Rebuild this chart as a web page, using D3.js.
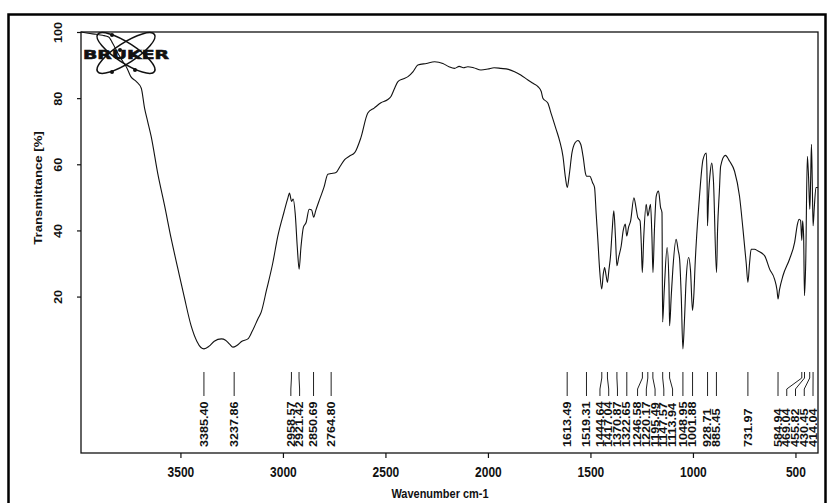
<!DOCTYPE html>
<html>
<head>
<meta charset="utf-8">
<script src="https://cdnjs.cloudflare.com/ajax/libs/d3/7.8.5/d3.min.js"></script>
<style>
body { margin: 0; background: #fff; }
text { font-family: "Liberation Sans", Arial, sans-serif; fill: #111; }
</style>
</head>
<body>
<div id="chart"></div>
<script>
// spectrum (wavenumber cm-1 / transmittance %)
var wavenumbers = [3985,3950,3910,3880,3850,3830,3805,3780,3760,3742,3715,3691,3675,3660,3643,3610,3577,3545,3512,3480,3448,3420,3400,3385,3360,3335,3300,3280,3260,3244,3225,3200,3171,3150,3120,3106,3080,3050,3025,2995,2975,2968,2958,2950,2940,2930,2921,2912,2900,2887,2872,2860,2850,2840,2821,2800,2781,2765,2741,2720,2699,2675,2650,2620,2586,2555,2522,2490,2473,2455,2439,2415,2390,2365,2342,2300,2260,2220,2190,2163,2140,2120,2098,2070,2034,2000,1970,1937,1900,1870,1840,1805,1780,1756,1740,1732,1708,1690,1667,1650,1634,1622,1613,1603,1590,1575,1561,1547,1535,1525,1519,1503,1490,1480,1472,1464,1455,1445,1437,1431,1424,1417,1410,1402,1394,1386,1378,1371,1362,1350,1340,1330,1323,1314,1304,1288,1278,1269,1258,1252,1247,1240,1228,1220,1207,1200,1195,1188,1179,1168,1158,1151,1148,1140,1126,1117,1114,1106,1098,1082,1072,1065,1057,1049,1042,1033,1021,1012,1002,996,989,978,968,951,935,931,929,924,915,908,900,885,880,871,865,842,821,797,773,756,740,732,724,716,700,683,650,626,602,590,585,578,561,529,504,490,482,475,469,465,460,456,450,442,436,430,426,422,418,414,408,400,390];
var transmittance = [100,99.6,99.3,99,98.5,96.5,93.6,91,89,86.5,85,83,77,73,68.5,57,47.4,37.5,28.3,19.5,11.2,6.5,4.6,4.2,5,6.5,7.2,6.8,5.6,4.7,5.2,6.5,7.2,9.5,13.5,15.3,22,30,38.3,45.5,50,51.3,48.8,49.5,45,35,28.3,35,41,42.4,46.4,46.2,44,46,49.4,53,57,57.2,57.5,59.5,61.4,62.5,63.5,68,75.5,77,78.6,79.5,80.5,83,85,85.8,86.5,88,90,90.5,91,90.5,89.5,89,89.6,89.2,89.5,89.2,88.5,88.8,89.2,89,88.7,88,87,85.5,84.5,83.5,82,80,78.5,75,70.5,67,62.4,56,53,57,63.5,66.5,67.2,66,62,57.5,56.4,56.4,54.5,53,45,37.3,28,22.3,27,28.8,26.5,24.3,28,32.3,40,45.9,38,29.3,32,35.3,40,41.9,38.3,41,42.9,49.9,47,43.9,42.9,36,27.3,38,47.9,44.4,47.9,38,27.3,40,50.4,51.9,47,45.4,12.3,22,34.8,24,11.2,20,28.3,37.3,34,31.3,20,4.2,12,25.3,31.8,28,15.8,20,30.3,42,50.4,61.4,63.4,55,41.4,50,58,60.4,55,27.3,40,52,59.4,62.7,60.9,57.9,50.4,40.4,30,24.3,30,34.3,34.3,33.8,32.3,28.3,25.3,22,19.3,22,26.3,31.3,36.4,42,43.4,43,37,42.9,38,20.3,30,62.4,56,46.4,55,66,55,41.4,47,53,53];

// peak picks printed under the spectrum
var peakLabels = [3385.40,3237.86,2958.57,2921.42,2850.69,2764.80,1613.49,1519.31,1444.64,1417.04,1370.87,1322.65,1246.58,1220.17,1195.49,1147.57,1113.94,1048.95,1001.88,928.71,885.45,731.97,584.94,469.04,455.82,430.45,414.04];

var xTicks = [3500,3000,2500,2000,1500,1000,500];
var yTicks = [100,80,60,40,20];

var width = 828, height = 503;
var svg = d3.select('#chart').append('svg')
    .attr('width', width)
    .attr('height', height);

// outer border of the printout
svg.append('rect')
    .attr('x', 8.5).attr('y', 14.5)
    .attr('width', 817).attr('height', 500)
    .attr('fill', 'none')
    .attr('stroke', '#000')
    .attr('stroke-width', 2.5);

var x = d3.scaleLinear().domain([3985, 390]).range([81, 818]);
var y = d3.scaleLinear().domain([-27.3, 100]).range([453, 32]);

// plot frame
svg.append('rect')
    .attr('x', x.range()[0]).attr('y', y.range()[1])
    .attr('width', x.range()[1] - x.range()[0])
    .attr('height', y.range()[0] - y.range()[1])
    .attr('fill', 'none')
    .attr('stroke', '#111')
    .attr('stroke-width', 1.3);

// x axis
var xAxis = svg.append('g')
    .attr('transform', 'translate(0,' + y.range()[0] + ')')
    .call(d3.axisBottom(x).tickValues(xTicks).tickSize(5).tickFormat(d3.format('d')));
xAxis.select('.domain').remove();
xAxis.selectAll('line').attr('stroke', '#111').attr('stroke-width', 1.2);
xAxis.selectAll('text')
    .attr('y', 0).attr('dy', '0.35em')
    .attr('transform', 'translate(0,19) scale(1,1.2)')
    .style('font-size', '12px')
    .style('font-weight', 'bold')
    .attr('fill', '#111');

// y axis
var yAxis = svg.append('g')
    .attr('transform', 'translate(' + x.range()[0] + ',0)')
    .call(d3.axisLeft(y).tickValues(yTicks).tickSize(4));
yAxis.select('.domain').remove();
yAxis.selectAll('line').attr('stroke', '#111').attr('stroke-width', 1.2);
yAxis.selectAll('text')
    .attr('x', 0).attr('dy', '0.35em')
    .attr('text-anchor', 'middle')
    .attr('transform', 'translate(-23,0) rotate(-90) scale(1.15,1)')
    .style('font-size', '11px')
    .style('font-weight', 'bold')
    .attr('fill', '#111');

// axis titles
svg.append('text')
    .attr('text-anchor', 'middle')
    .attr('transform', 'translate(440,493) scale(1,1.2)')
    .attr('dy', '0.35em')
    .style('font-size', '11px')
    .style('font-weight', 'bold')
    .text('Wavenumber cm-1');

svg.append('text')
    .attr('text-anchor', 'middle')
    .attr('transform', 'translate(38,188) rotate(-90) scale(1.2,1)')
    .attr('dy', '0.35em')
    .style('font-size', '11px')
    .style('font-weight', 'bold')
    .text('Transmittance [%]');

// spectrum line
var spectrum = wavenumbers.map(function(w, i) { return { w: w, t: transmittance[i] }; });
var line = d3.line()
    .x(function(d) { return x(d.w); })
    .y(function(d) { return y(d.t); })
    .curve(d3.curveMonotoneX);

svg.append('path')
    .datum(spectrum)
    .attr('d', line)
    .attr('fill', 'none')
    .attr('stroke', '#111')
    .attr('stroke-width', 1.1);

// spread crowded peak labels into clusters
function spreadLabels(xs, gap, maxX) {
    var clusters = xs.map(function(v, i) { return { idx: [i], mean: v }; });
    function start(c) {
        return Math.min(c.mean - (c.idx.length - 1) * gap / 2, maxX - (c.idx.length - 1) * gap);
    }
    var merged = true;
    while (merged) {
        merged = false;
        for (var i = 0; i < clusters.length - 1; i++) {
            var a = clusters[i], b = clusters[i + 1];
            var aEnd = start(a) + (a.idx.length - 1) * gap;
            if (start(b) - aEnd < gap) {
                var idx = a.idx.concat(b.idx);
                clusters.splice(i, 2, { idx: idx, mean: d3.mean(idx, function(j) { return xs[j]; }) });
                merged = true;
                break;
            }
        }
    }
    var out = [];
    clusters.forEach(function(c) {
        var s = start(c);
        c.idx.forEach(function(j, k) { out[j] = s + k * gap; });
    });
    return out;
}

var peakX = peakLabels.map(function(p) { return x(p); });
var labelX = spreadLabels(peakX, 8.75, 813);

var peaks = svg.append('g').attr('class', 'peaks');
peakLabels.forEach(function(p, i) {
    var px = peakX[i], lx = labelX[i];
    peaks.append('path')
        .attr('d', 'M' + px + ',372V378L' + lx + ',389V396')
        .attr('fill', 'none')
        .attr('stroke', '#222')
        .attr('stroke-width', 1);
    peaks.append('text')
        .attr('transform', 'translate(' + lx + ',447) rotate(-90) scale(1.2,1)')
        .attr('dy', '0.35em')
        .style('font-size', '10.5px')
        .style('font-weight', 'bold')
        .text(p.toFixed(2));
});

// Bruker logo in the corner
var logo = svg.append('g').attr('transform', 'translate(126,53)');
[-33, 33].forEach(function(a) {
    logo.append('ellipse')
        .attr('rx', 34).attr('ry', 10)
        .attr('transform', 'rotate(' + a + ')')
        .attr('fill', 'none')
        .attr('stroke', '#111')
        .attr('stroke-width', 1.5);
});
[[-14, -18], [-14, 19], [9, 17], [-6, -3]].forEach(function(d) {
    logo.append('circle').attr('cx', d[0]).attr('cy', d[1]).attr('r', 2).attr('fill', '#111');
});
svg.append('text')
    .attr('x', 83).attr('y', 59)
    .attr('textLength', 86)
    .attr('lengthAdjust', 'spacingAndGlyphs')
    .style('font-family', '"DejaVu Sans", sans-serif')
    .style('font-size', '13px')
    .style('font-weight', 'bold')
    .attr('stroke', '#111')
    .attr('stroke-width', 0.6)
    .text('BRUKER');
</script>
</body>
</html>
